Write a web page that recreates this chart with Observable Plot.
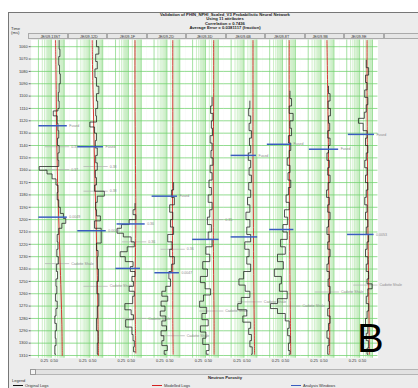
<!DOCTYPE html>
<html><head><meta charset="utf-8">
<script src="https://cdn.jsdelivr.net/npm/d3@7"></script>
<script src="https://cdn.jsdelivr.net/npm/@observablehq/plot@0.6"></script>
<style>
html,body{margin:0;padding:0;width:418px;height:388px;overflow:hidden;background:#fff;font-family:"Liberation Sans",Arial,sans-serif;}
#frame{position:absolute;left:8px;top:12px;width:410px;height:376px;background:#ececec;border-left:1px solid #777;border-top:1px solid #777;}
#title{position:absolute;left:8px;width:434px;top:13px;text-align:center;font-size:4.2px;line-height:4.3px;color:#222;font-weight:bold;}
#ylab{position:absolute;left:11px;top:27px;font-size:4.2px;line-height:4.4px;color:#333;}
#heads{position:absolute;left:0;top:33px;height:7px;width:423px;}
.hb{position:absolute;top:0;height:6px;background:#e6e6e6;border:0.5px solid #aaa;box-sizing:border-box;}
#chart{position:absolute;left:0;top:0;}
#scroll{position:absolute;left:30px;top:369px;width:390px;height:6px;background:#e2e2e2;border:0.5px solid #b5b5b5;box-sizing:border-box;}
#thumb{position:absolute;left:30px;top:369px;width:6px;height:6px;background:#f4f4f4;border:0.5px solid #999;box-sizing:border-box;}
#xlab{position:absolute;left:8px;width:434px;top:375px;text-align:center;font-size:4.2px;font-weight:bold;color:#222;}
#legend{position:absolute;left:12px;top:378px;font-size:4px;color:#333;}
.li{position:absolute;top:383px;font-size:4px;color:#333;white-space:nowrap;}
.li span{display:inline-block;width:10px;height:0;border-top:1px solid;vertical-align:middle;margin-right:2px;}
#big{position:absolute;left:357px;top:324px;font-size:40px;line-height:28px;height:28px;color:#000;font-family:"Liberation Sans",Arial,sans-serif;}
</style>
</head><body>
<div id="frame"></div>
<div id="title">Validation of PHIN_NPHI_Scaled_V3 Probabilistic Neural Network<br>Using 11 attributes<br>Correlation = 0.7436<br>Average Error = 0.0381117 (fraction)</div>
<div id="ylab">Time<br>(ms)</div>
<div id="heads"></div>
<div id="chart"></div>
<div id="scroll"></div><div id="thumb"></div>
<div id="xlab">Neutron Porosity</div>
<div id="legend">Legend</div>
<div class="li" style="left:13px"><span style="border-color:#111"></span>Original Logs</div>
<div class="li" style="left:152px"><span style="border-color:#d42020"></span>Modelled Logs</div>
<div class="li" style="left:291px"><span style="border-color:#3a5cc0"></span>Analysis Windows</div>
<div id="big">B</div>
<script>
const wells = ["JE/09-13ST","JE/09-12D","JE/09-1F","JE/09-2D","JE/09-3D","JE/09-6B","JE/09-8T","JE/09-9B","JE/09-9E"];
const timeTicks = [1060,1070,1080,1090,1100,1110,1120,1130,1140,1150,1160,1170,1180,1190,1200,1210,1220,1230,1240,1250,1260,1270,1280,1290,1300,1310];
const porosityTicks = [0.25, 0.50];
const porosityTickLabels = ["0.25", "0.50"];

// Original (measured) logs: [time ms, porosity]
const orig1 = [[1055,0.63],[1062,0.65],[1068,0.62],[1075,0.64],[1082,0.66],[1090,0.63],[1097,0.61],[1104,0.63],[1110,0.60],[1112,0.48],[1116,0.58],[1122,0.60],[1128,0.62],[1134,0.59],[1140,0.63],[1146,0.60],[1152,0.62],[1157,0.12],[1160,0.32],[1163,0.45],[1167,0.55],[1172,0.60],[1178,0.58],[1184,0.62],[1190,0.66],[1195,0.74],[1199,0.80],[1203,0.70],[1207,0.62],[1212,0.58],[1218,0.60],[1224,0.57],[1230,0.61],[1236,0.56],[1242,0.59],[1248,0.55],[1254,0.57],[1260,0.54],[1266,0.58],[1272,0.55],[1278,0.52],[1284,0.56],[1290,0.53],[1296,0.55],[1302,0.52],[1309,0.54]];
const orig2 = [[1055,0.60],[1060,0.66],[1066,0.58],[1072,0.62],[1078,0.56],[1085,0.60],[1092,0.66],[1098,0.60],[1104,0.63],[1110,0.58],[1116,0.60],[1121,0.43],[1125,0.55],[1130,0.60],[1136,0.57],[1142,0.62],[1148,0.58],[1154,0.62],[1160,0.57],[1166,0.60],[1172,0.55],[1177,0.80],[1181,0.62],[1186,0.58],[1192,0.60],[1197,0.70],[1201,0.55],[1207,0.72],[1219,0.60],[1225,0.64],[1230,0.62],[1240,0.65],[1250,0.61],[1260,0.66],[1270,0.62],[1280,0.60],[1290,0.64],[1300,0.62],[1309,0.63]];
const orig3 = [[1187,0.60],[1192,0.55],[1196,0.62],[1200,0.45],[1204,0.25],[1207,0.14],[1211,0.30],[1214,0.50],[1218,0.58],[1222,0.40],[1226,0.22],[1230,0.35],[1234,0.55],[1238,0.48],[1242,0.60],[1246,0.52],[1250,0.56],[1254,0.45],[1258,0.58],[1262,0.54],[1268,0.34],[1273,0.50],[1277,0.56],[1281,0.36],[1287,0.52],[1293,0.55],[1298,0.58],[1303,0.56],[1307,0.60]];
const orig4 = [[1170,0.60],[1176,0.55],[1182,0.62],[1188,0.50],[1194,0.58],[1200,0.52],[1206,0.60],[1212,0.45],[1218,0.56],[1224,0.50],[1230,0.62],[1236,0.55],[1242,0.48],[1248,0.52],[1254,0.40],[1258,0.30],[1262,0.45],[1266,0.28],[1270,0.38],[1274,0.26],[1278,0.40],[1282,0.30],[1286,0.42],[1290,0.28],[1294,0.35],[1298,0.30],[1302,0.44],[1306,0.36],[1309,0.40]];
const orig5 = [[1101,0.60],[1108,0.56],[1114,0.62],[1120,0.58],[1126,0.61],[1132,0.55],[1138,0.60],[1144,0.57],[1150,0.62],[1156,0.55],[1162,0.60],[1168,0.52],[1174,0.58],[1180,0.50],[1186,0.60],[1192,0.54],[1198,0.48],[1204,0.58],[1210,0.50],[1216,0.60],[1222,0.44],[1228,0.54],[1234,0.36],[1240,0.48],[1246,0.30],[1251,0.42],[1256,0.56],[1261,0.38],[1266,0.28],[1271,0.46],[1276,0.34],[1281,0.50],[1286,0.30],[1291,0.44],[1296,0.36],[1301,0.52],[1306,0.45],[1309,0.50]];
const orig6 = [[1104,0.58],[1110,0.55],[1116,0.60],[1122,0.56],[1128,0.62],[1134,0.57],[1140,0.60],[1146,0.54],[1152,0.60],[1158,0.56],[1164,0.62],[1170,0.55],[1176,0.60],[1182,0.52],[1188,0.58],[1194,0.48],[1200,0.58],[1206,0.50],[1212,0.60],[1218,0.45],[1224,0.56],[1230,0.50],[1236,0.60],[1242,0.42],[1248,0.30],[1253,0.46],[1258,0.58],[1263,0.36],[1268,0.27],[1273,0.50],[1278,0.40],[1283,0.60],[1288,0.55],[1293,0.62],[1298,0.58],[1303,0.64],[1309,0.62]];
const orig7 = [[1096,0.62],[1102,0.66],[1108,0.60],[1114,0.70],[1120,0.62],[1126,0.66],[1132,0.58],[1138,0.64],[1144,0.60],[1150,0.55],[1156,0.62],[1162,0.57],[1168,0.64],[1174,0.58],[1180,0.52],[1186,0.60],[1192,0.48],[1198,0.56],[1204,0.44],[1210,0.55],[1216,0.38],[1222,0.50],[1228,0.30],[1234,0.45],[1240,0.22],[1246,0.40],[1252,0.35],[1258,0.55],[1264,0.30],[1268,0.12],[1272,0.30],[1276,0.50],[1282,0.60],[1288,0.56],[1294,0.62],[1300,0.58],[1306,0.62],[1309,0.60]];
const orig8 = [[1092,0.62],[1098,0.66],[1104,0.61],[1110,0.67],[1116,0.62],[1122,0.65],[1128,0.60],[1134,0.66],[1140,0.62],[1146,0.58],[1152,0.64],[1158,0.60],[1164,0.66],[1170,0.61],[1176,0.57],[1182,0.64],[1188,0.60],[1194,0.66],[1200,0.62],[1206,0.58],[1212,0.64],[1218,0.60],[1224,0.66],[1230,0.62],[1236,0.58],[1242,0.64],[1248,0.61],[1254,0.66],[1260,0.62],[1266,0.64],[1272,0.60],[1278,0.66],[1284,0.62],[1290,0.58],[1296,0.63],[1302,0.60],[1309,0.62]];
const orig9 = [[1071,0.60],[1077,0.66],[1083,0.58],[1089,0.62],[1095,0.56],[1101,0.64],[1107,0.60],[1113,0.55],[1118,0.40],[1122,0.52],[1128,0.62],[1134,0.58],[1140,0.64],[1146,0.60],[1152,0.56],[1158,0.62],[1164,0.58],[1170,0.64],[1176,0.60],[1182,0.56],[1188,0.62],[1194,0.58],[1200,0.64],[1206,0.60],[1212,0.66],[1218,0.62],[1224,0.58],[1230,0.64],[1236,0.60],[1242,0.66],[1248,0.62],[1252,0.75],[1256,0.64],[1262,0.60],[1268,0.66],[1274,0.62],[1280,0.58],[1286,0.64],[1292,0.60],[1298,0.66],[1304,0.62],[1309,0.64]];

// Modelled logs: [time ms, porosity]
const model1 = [[1055,0.54],[1080,0.55],[1110,0.56],[1140,0.57],[1170,0.59],[1200,0.62],[1230,0.65],[1260,0.68],[1285,0.70],[1310,0.71]];
const model2 = [[1055,0.49],[1080,0.50],[1110,0.52],[1140,0.54],[1170,0.56],[1200,0.59],[1230,0.61],[1260,0.63],[1285,0.64],[1310,0.65]];
const model3 = [[1055,0.60],[1100,0.60],[1150,0.61],[1200,0.62],[1230,0.61],[1260,0.60],[1285,0.61],[1308,0.62]];
const model4 = [[1055,0.58],[1100,0.58],[1150,0.58],[1200,0.57],[1250,0.58],[1280,0.58],[1309,0.59]];
const model5 = [[1055,0.64],[1100,0.64],[1150,0.63],[1200,0.63],[1250,0.64],[1280,0.65],[1309,0.65]];
const model6 = [[1055,0.66],[1100,0.66],[1150,0.66],[1200,0.67],[1250,0.68],[1280,0.69],[1309,0.70]];
const model7 = [[1055,0.60],[1100,0.60],[1150,0.61],[1200,0.61],[1250,0.62],[1280,0.63],[1309,0.64]];
const model8 = [[1055,0.58],[1100,0.60],[1150,0.62],[1200,0.63],[1250,0.64],[1280,0.65],[1309,0.65]];
const model9 = [[1055,0.62],[1100,0.62],[1150,0.63],[1200,0.64],[1250,0.66],[1280,0.67],[1309,0.68]];

// Analysis windows: [well index, time, from, to, label]
const windows = [[0,1124,0.11,0.84,"Fused"],[0,1198,0.11,0.84,"0.0049"],[1,1141,0.12,0.78,"Fused"],[1,1209,0.12,0.85,"0.0049"],[2,1203.5,0.14,0.86,"0.36"],[2,1239.5,0.11,0.74,""],[3,1181,0.05,0.70,"Fused"],[3,1243,0.12,0.75,"0.0047"],[4,1216,0.10,0.78,""],[5,1148,0.10,0.75,"Fused"],[5,1214,0.10,0.78,""],[6,1139,0.04,0.66,"Fused"],[6,1208,0.10,0.72,""],[7,1143,0.13,0.88,"Fused"],[8,1131,0.14,0.81,"Fused"],[8,1212,0.12,0.80,"0.0053"]];
// Horizon markers: [well index, time, label]
const markers = [[0,1141,"0.37"],[0,1159.5,"0.37"],[0,1235.6,"Cadotte Shale"],[1,1157,"0.38"],[1,1177,"0.38"],[1,1254,"Cadotte Shale"],[2,1218,"0.36"],[2,1280,"Cadotte Shale"],[3,1224,"0.36"],[3,1294,"Cadotte Shale"],[4,1200,"0.35"],[4,1274,"Cadotte Shale"],[5,1266.6,"Cadotte Shale"],[6,1270,"Cadotte Shale"],[7,1258.6,"Cadotte Shale"],[8,1253,"Cadotte Shale"]];
// Log-style vertical grid positions within each track (porosity units)
const gridV = [0.1,0.199,0.257,0.299,0.331,0.357,0.379,0.398,0.415,0.43,0.529,0.587,0.629,0.661,0.687,0.709,0.728,0.745,0.76];
const gridMajor = [0.1,0.43,0.76];

const origLogs = [orig1,orig2,orig3,orig4,orig5,orig6,orig7,orig8,orig9];
const modelLogs = [model1,model2,model3,model4,model5,model6,model7,model8,model9];
const toRows = (arr, i) => arr.map(([t, v]) => ({well: wells[i], t, v}));
const origData = origLogs.flatMap(toRows);
const modelData = modelLogs.flatMap(toRows);
const winData = windows.map(([i,t,v1,v2,label]) => ({well: wells[i], t, v1, v2, label}));
const markData = markers.map(([i,t,label]) => ({well: wells[i], t, label}));
const gridData = wells.flatMap(w => gridV.map(v => ({well: w, v, major: gridMajor.includes(v)})));
const xTickData = wells.flatMap(w => porosityTicks.map((v, k) => ({well: w, v, label: porosityTickLabels[k]})));
const fxDomain = [...wells, " "];

// header boxes (layout only)
const heads = document.getElementById("heads");
const trackW = 39.5;
fxDomain.forEach((w, i) => {
  const d = document.createElement("div");
  d.className = "hb";
  d.style.left = (28 + i * trackW) + "px";
  d.style.width = trackW + "px";
  heads.appendChild(d);
});

const chart = Plot.plot({
  width: 423, height: 370,
  marginTop: 40, marginBottom: 8, marginLeft: 28, marginRight: 0,
  style: {background: "transparent", fontFamily: "Liberation Sans, Arial, sans-serif", overflow: "visible"},
  fx: {domain: fxDomain, padding: 0, label: null},
  x: {domain: [-0.0875, 0.9], axis: null},
  y: {domain: [1054.6, 1312.2], reverse: true, label: null},
  marks: [
    Plot.frame({fill: "white", stroke: null}),
    Plot.ruleX(gridData.filter(d => !d.major), {fx: "well", x: "v", stroke: "#b2e6ab", strokeWidth: 0.65}),
    Plot.ruleX(gridData.filter(d => d.major), {fx: "well", x: "v", stroke: "#7ed57a", strokeWidth: 0.7}),
    Plot.ruleY(timeTicks, {stroke: "#6ccf6a", strokeWidth: 0.75}),
    Plot.ruleY(markData, {fx: "well", y: "t", x1: 0.28, x2: 0.9, stroke: "#b0b0b0", strokeWidth: 0.7}),
    Plot.text(markData, {fx: "well", y: "t", x: 0.9, text: "label", textAnchor: "start", dx: 1.5, fontSize: 3.6, fill: "#8a8a8a"}),
    Plot.line(modelData, {fx: "well", x: "v", y: "t", stroke: "#d42020", strokeWidth: 0.9, curve: "catmull-rom"}),
    Plot.line(origData, {fx: "well", x: "v", y: "t", stroke: "#1a1a1a", strokeWidth: 0.75, curve: "step-before"}),
    Plot.ruleY(winData, {fx: "well", y: "t", x1: "v1", x2: "v2", stroke: "#3a5cc0", strokeWidth: 1.5}),
    Plot.text(winData, {fx: "well", y: "t", x: "v2", text: "label", textAnchor: "start", dx: 2, fontSize: 3.6, fill: "#8a8a8a"}),
    Plot.text(xTickData, {fx: "well", x: "v", text: "label", frameAnchor: "bottom", dy: 3.5, fontSize: 4, fill: "#333"}),
    Plot.axisY(timeTicks, {tickSize: 2, tickPadding: 1.5, fontSize: 4, tickFormat: d => String(d), label: null, stroke: "#666", color: "#333"}),
    Plot.axisFx({anchor: "top", tickSize: 0, tickPadding: 1.8, fontSize: 3.8, label: null, color: "#333"})
  ]
});
document.getElementById("chart").appendChild(chart);
</script>
</body></html>
